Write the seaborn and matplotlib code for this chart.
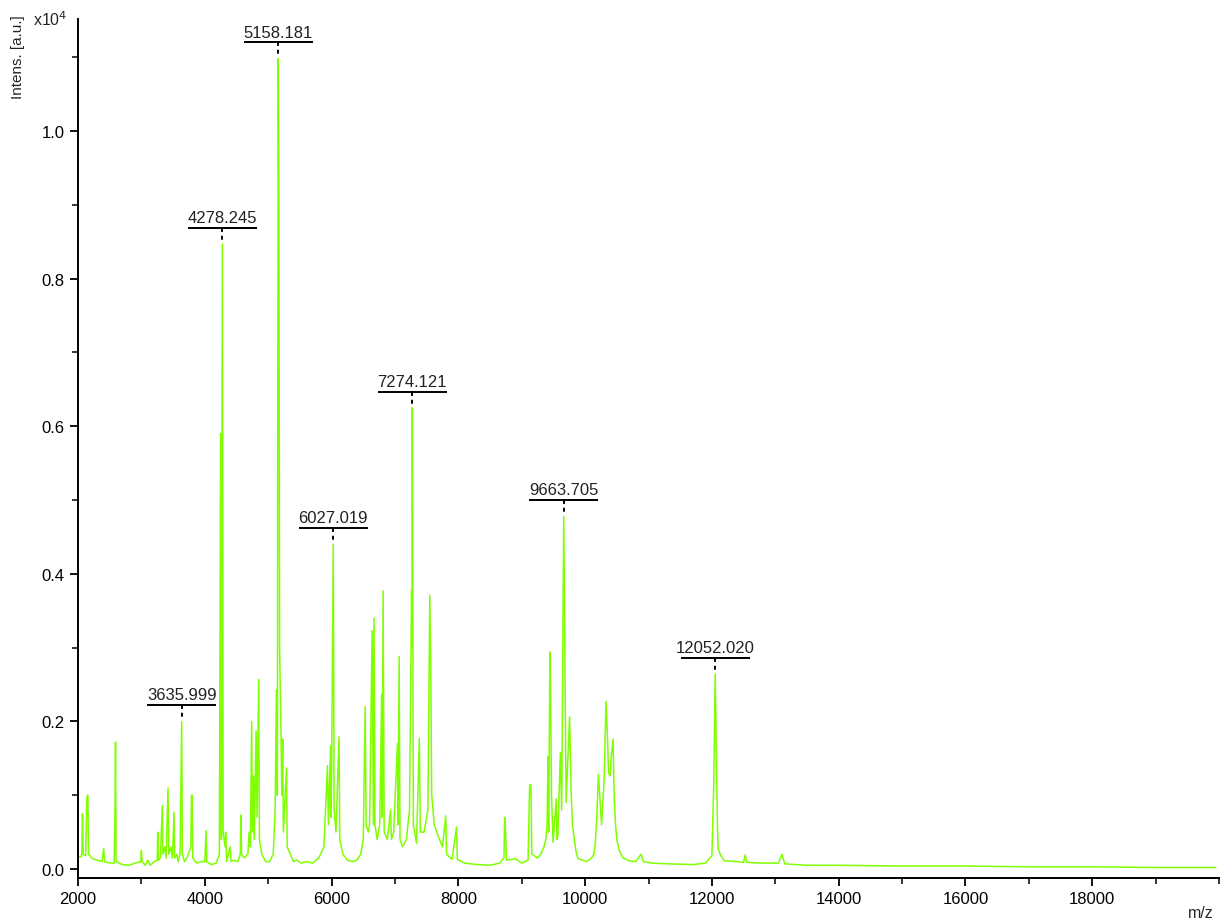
import numpy as np
import matplotlib
matplotlib.use("Agg")
import matplotlib.pyplot as plt
from matplotlib.ticker import MultipleLocator, FixedLocator
import seaborn as sns

# spectrum vertices (m/z, intensity in 1e4 a.u.)
mz = [2000, 2040, 2060, 2071, 2082, 2120, 2140, 2155, 2165, 2230, 2300, 2380, 2405, 2420,
      2500, 2570, 2585, 2592, 2600, 2700, 2800, 2900, 2990, 3000, 3010, 3060, 3100, 3140,
      3200, 3250, 3258, 3268, 3300, 3330, 3340, 3370, 3390, 3420, 3432, 3470, 3490, 3515,
      3525, 3560, 3580, 3610, 3636, 3646, 3680, 3720, 3780, 3790, 3800, 3810, 3870, 3950,
      4000, 4020, 4030, 4100, 4180, 4230, 4250, 4262, 4278, 4290, 4320, 4330, 4345, 4400,
      4415, 4450, 4520, 4560, 4570, 4580, 4620, 4680, 4700, 4720, 4740, 4750, 4770, 4780,
      4810, 4825, 4850, 4862, 4900, 4960, 5020, 5080, 5110, 5130, 5145, 5158, 5170, 5180,
      5200, 5215, 5230, 5240, 5290, 5300, 5360, 5400, 5450, 5520, 5600, 5700, 5800, 5880,
      5935, 5950, 5985, 5995, 6027, 6040, 6070, 6118, 6130, 6180, 6250, 6330, 6400, 6460,
      6500, 6530, 6545, 6580, 6600, 6640, 6660, 6670, 6685, 6720, 6760, 6790, 6800, 6813,
      6830, 6880, 6930, 6945, 6980, 7040, 7050, 7066, 7080, 7120, 7180, 7230, 7262, 7268,
      7274, 7290, 7340, 7385, 7400, 7460, 7520, 7550, 7565, 7580, 7620, 7680, 7750, 7800,
      7815, 7900, 7972, 7985, 8100, 8300, 8500, 8650, 8720, 8730, 8745, 8760, 8900, 9000,
      9100, 9125, 9145, 9160, 9250, 9300, 9350, 9380, 9400, 9415, 9425, 9445, 9455, 9470,
      9495, 9545, 9555, 9570, 9610, 9630, 9663, 9675, 9700, 9755, 9780, 9800, 9830, 9860,
      9890, 10025, 10100, 10140, 10160, 10180, 10210, 10260, 10300, 10330, 10350, 10370, 10395,
      10410, 10440, 10460, 10480, 10500, 10540, 10600, 10700, 10800, 10880, 10920, 11050,
      11300, 11700, 11900, 12000, 12030, 12052, 12075, 12090, 12100, 12140, 12200, 12400,
      12500, 12525, 12550, 12800, 13050, 13105, 13150, 13500, 14000, 15000, 16000, 17000,
      18000, 19000, 19950]
intens = [0.018, 0.016, 0.02, 0.075, 0.02, 0.018, 0.098, 0.1, 0.02, 0.014, 0.012, 0.01, 0.028, 0.01,
          0.008, 0.008, 0.09, 0.172, 0.01, 0.006, 0.005, 0.008, 0.01, 0.025, 0.01, 0.005, 0.012, 0.005,
          0.01, 0.012, 0.05, 0.012, 0.015, 0.086, 0.02, 0.03, 0.015, 0.11, 0.02, 0.03, 0.015, 0.077,
          0.015, 0.02, 0.01, 0.02, 0.2, 0.02, 0.01, 0.015, 0.03, 0.1, 0.1, 0.015, 0.008, 0.01,
          0.01, 0.052, 0.01, 0.006, 0.008, 0.02, 0.59, 0.04, 0.847, 0.05, 0.03, 0.05, 0.01, 0.03,
          0.01, 0.012, 0.01, 0.02, 0.073, 0.02, 0.015, 0.02, 0.05, 0.03, 0.2, 0.05, 0.126, 0.04,
          0.187, 0.07, 0.257, 0.04, 0.02, 0.01, 0.01, 0.02, 0.08, 0.243, 0.1, 1.098, 0.883, 0.3,
          0.2, 0.1, 0.176, 0.05, 0.137, 0.03, 0.018, 0.01, 0.012, 0.008, 0.01, 0.008, 0.015, 0.03,
          0.14, 0.06, 0.167, 0.07, 0.44, 0.08, 0.05, 0.179, 0.04, 0.02, 0.012, 0.01, 0.012, 0.02,
          0.04, 0.22, 0.06, 0.05, 0.06, 0.323, 0.06, 0.34, 0.06, 0.04, 0.06, 0.237, 0.07, 0.377,
          0.05, 0.04, 0.08, 0.04, 0.05, 0.17, 0.06, 0.288, 0.04, 0.03, 0.04, 0.08, 0.377, 0.3,
          0.625, 0.06, 0.035, 0.177, 0.05, 0.05, 0.08, 0.371, 0.27, 0.1, 0.06, 0.045, 0.03, 0.072,
          0.02, 0.013, 0.057, 0.013, 0.008, 0.006, 0.005, 0.008, 0.015, 0.07, 0.05, 0.012, 0.014, 0.008,
          0.012, 0.114, 0.114, 0.02, 0.015, 0.02, 0.03, 0.04, 0.06, 0.152, 0.05, 0.294, 0.244, 0.1,
          0.036, 0.095, 0.04, 0.045, 0.158, 0.08, 0.478, 0.35, 0.09, 0.206, 0.104, 0.06, 0.04, 0.022,
          0.014, 0.01, 0.015, 0.02, 0.035, 0.064, 0.128, 0.06, 0.122, 0.227, 0.185, 0.13, 0.126,
          0.149, 0.176, 0.095, 0.06, 0.04, 0.025, 0.015, 0.011, 0.01, 0.02, 0.01, 0.008,
          0.007, 0.006, 0.008, 0.018, 0.118, 0.264, 0.124, 0.05, 0.027, 0.018, 0.011, 0.01,
          0.009, 0.019, 0.009, 0.008, 0.008, 0.02, 0.007, 0.005, 0.005, 0.004, 0.004, 0.003,
          0.003, 0.002, 0.002]

# labelled peaks
peak_labels = ["3635.999", "4278.245", "5158.181", "6027.019", "7274.121", "9663.705", "12052.020"]
peak_mz = [3636, 4278, 5158, 6027, 7274, 9663, 12052]
peak_top = [0.2, 0.847, 1.098, 0.44, 0.625, 0.478, 0.264]

sns.set_style("ticks")
plt.rcParams['font.family'] = ['Liberation Sans', 'DejaVu Sans']

fig = plt.figure(figsize=(12.22, 9.2), dpi=100)
ax = fig.add_axes([78 / 1222, 1 - 879 / 920, 1141 / 1222, 859 / 920])

sns.lineplot(x=mz, y=intens, ax=ax, color="#7FFF00", linewidth=1.1,
             estimator=None, sort=False)

# peak annotations: label, bar, dotted connector
for lab, x, y in zip(peak_labels, peak_mz, peak_top):
    bar = y + 0.022
    ax.plot([x - 545, x + 545], [bar, bar], color="black", lw=1.4, solid_capstyle="butt")
    ax.plot([x, x], [bar, y + 0.004], color="black", lw=1.4, ls=(0, (2, 2)))
    ax.text(x, bar + 0.004, lab, ha="center", va="bottom", fontsize=12, color="#222222")

ax.set_xlim(2000, 20000)
ax.set_ylim(-0.0122, 1.1518)
ax.xaxis.set_major_locator(FixedLocator(list(range(2000, 20000, 2000))))
ax.xaxis.set_minor_locator(MultipleLocator(1000))
ax.yaxis.set_major_locator(FixedLocator([0.0, 0.2, 0.4, 0.6, 0.8, 1.0]))
ax.yaxis.set_minor_locator(MultipleLocator(0.1))
ax.yaxis.set_major_formatter(matplotlib.ticker.FormatStrFormatter("%.1f"))
ax.tick_params(axis="both", which="major", length=6, width=1.3, labelsize=12, colors="black")
ax.tick_params(axis="both", which="minor", length=4, width=1.3)
for s in ["top", "right"]:
    ax.spines[s].set_visible(False)
for s in ["left", "bottom"]:
    ax.spines[s].set_linewidth(1.4)
    ax.spines[s].set_color("black")
ax.set_xlabel("")
ax.set_ylabel("")

fig.text(18 / 1222, 1 - 57 / 920, "Intens. [a.u.]", rotation=90, ha="center", va="center", fontsize=11)
fig.text(33 / 1222, 1 - 26 / 920, r"x10$^4$", ha="left", va="baseline", fontsize=11.5)
fig.text(1214 / 1222, 1 - 918 / 920, "m/z", ha="right", va="baseline", fontsize=11.5)

fig.savefig("out.png", dpi=100)
